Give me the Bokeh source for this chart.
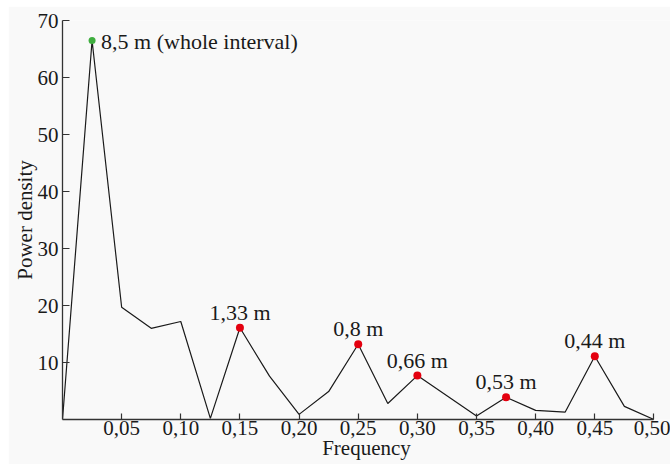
from bokeh.plotting import figure
from bokeh.models import FixedTicker, CustomJSTickFormatter, ColumnDataSource, LabelSet
from bokeh.embed import file_html
from bokeh.resources import INLINE

# Periodogram: power density by frequency
frequency = [0.0, 0.025, 0.05, 0.075, 0.10, 0.125, 0.15, 0.175, 0.20, 0.225, 0.25,
             0.275, 0.30, 0.35, 0.375, 0.40, 0.425, 0.45, 0.475, 0.50]
power = [0.0, 66.5, 19.7, 16.0, 17.2, 0.2, 16.1, 7.6, 0.9, 4.9, 13.2,
         2.8, 7.7, 0.6, 3.9, 1.6, 1.3, 11.1, 2.3, 0.0]

# Highlighted peaks with their wavelengths
peak_freq = [0.15, 0.25, 0.30, 0.375, 0.45]
peak_power = [16.1, 13.2, 7.7, 3.9, 11.1]
peak_labels = ["1,33 m", "0,8 m", "0,66 m", "0,53 m", "0,44 m"]

main_freq = [0.025]
main_power = [66.5]
main_label = ["8,5 m (whole interval)"]

x_ticks = [0.05, 0.10, 0.15, 0.20, 0.25, 0.30, 0.35, 0.40, 0.45, 0.50]
y_ticks = [10, 20, 30, 40, 50, 60, 70]
x_title = "Frequency"
y_title = "Power density"

FONT = "Liberation Serif"
INK = "#1a1a1a"
BG = "#f9f9f9"

p = figure(width=662, height=458, output_backend="svg", toolbar_location=None,
           x_range=(0, 0.514), y_range=(0, 70),
           min_border_left=54, min_border_right=0, min_border_top=14, min_border_bottom=45,
           background_fill_color=BG, border_fill_color=BG)
p.styles = {"margin-left": "8px", "margin-top": "6px"}
p.outline_line_color = None
p.grid.visible = False

p.line(frequency, power, line_color=INK, line_width=1.2)
p.scatter(peak_freq, peak_power, size=8, fill_color="#e4000f", line_color=None)
p.scatter(main_freq, main_power, size=7, fill_color="#3fae3f", line_color=None)

peaks = ColumnDataSource(dict(x=peak_freq, y=peak_power, t=peak_labels))
p.add_layout(LabelSet(x="x", y="y", text="t", source=peaks, text_align="center",
                      text_baseline="alphabetic", y_offset=8,
                      text_font=FONT, text_font_size="22px", text_color=INK))
main = ColumnDataSource(dict(x=main_freq, y=main_power, t=main_label))
p.add_layout(LabelSet(x="x", y="y", text="t", source=main, text_align="left",
                      text_baseline="middle", x_offset=9, y_offset=-1,
                      text_font=FONT, text_font_size="22px", text_color=INK))

for ax in (p.xaxis[0], p.yaxis[0]):
    ax.axis_line_color = "#333333"
    ax.axis_line_width = 1.3
    ax.major_tick_line_color = "#333333"
    ax.major_tick_line_width = 1.2
    ax.minor_tick_line_color = None
    ax.major_tick_out = 0
    ax.major_label_text_font = FONT
    ax.major_label_text_font_size = "21px"
    ax.major_label_text_color = INK
    ax.axis_label_text_font = FONT
    ax.axis_label_text_font_size = "21px"
    ax.axis_label_text_font_style = "normal"
    ax.axis_label_text_color = INK

p.xaxis.bounds = (0, 0.5)
p.xaxis.ticker = FixedTicker(ticks=x_ticks)
p.xaxis.formatter = CustomJSTickFormatter(code="return tick.toFixed(2).replace('.', ',');")
p.xaxis.major_tick_in = 6
p.xaxis.major_label_standoff = 1
p.xaxis.major_label_text_line_height = 1.0
p.xaxis.axis_label = x_title
p.xaxis.axis_label_text_line_height = 1.0
p.xaxis.axis_label_standoff = -2

p.yaxis.bounds = (0, 70)
p.yaxis.ticker = FixedTicker(ticks=y_ticks)
p.yaxis.major_tick_in = 7
p.yaxis.major_label_standoff = 4
p.yaxis.axis_label = y_title
p.yaxis.axis_label_standoff = -2

open("out.html", "w").write(file_html(p, INLINE))
